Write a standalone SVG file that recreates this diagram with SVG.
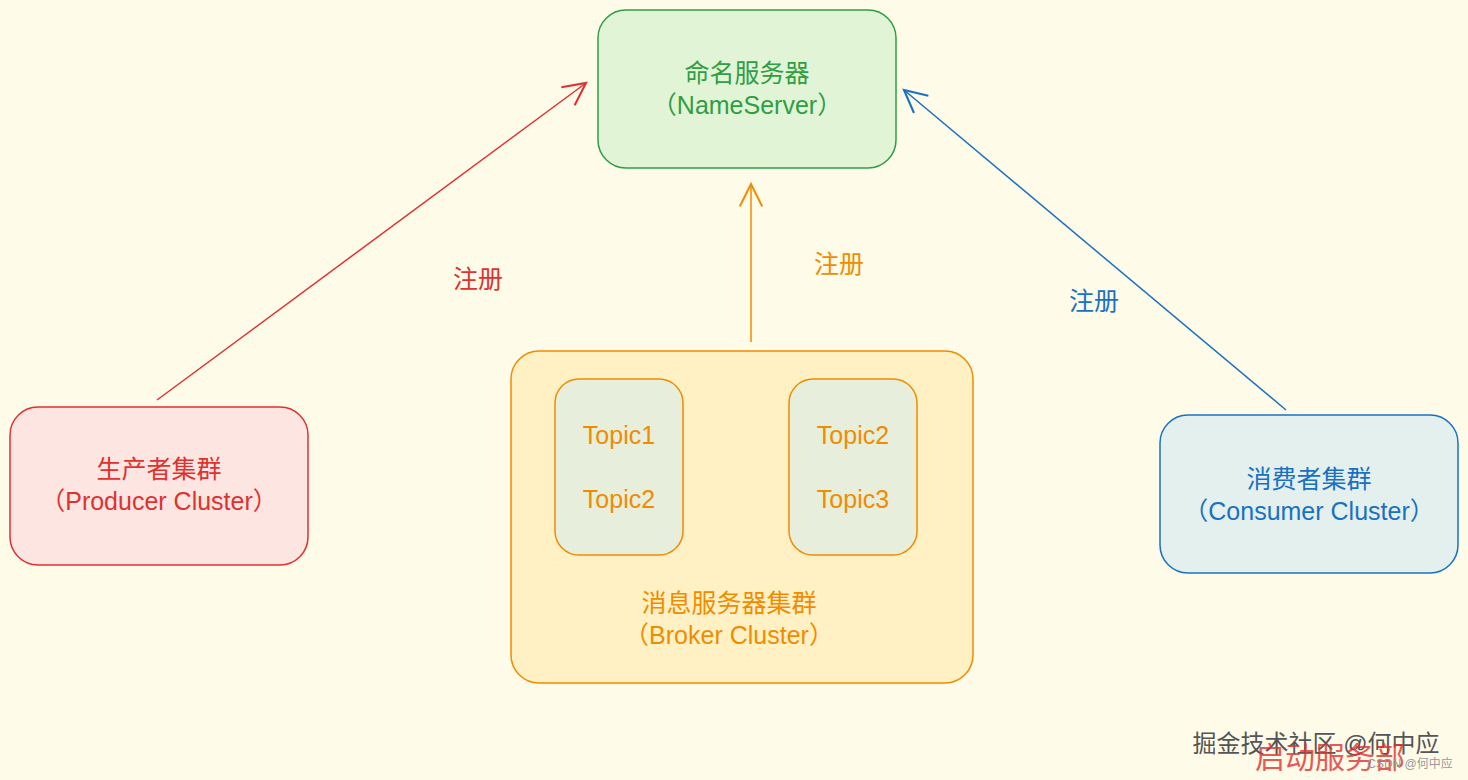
<svg xmlns="http://www.w3.org/2000/svg" width="1468" height="780" viewBox="0 0 1468 780">
<defs>
<style>
text{font-family:"Liberation Sans","Noto Sans CJK SC",sans-serif;text-anchor:middle}
.box{stroke-width:1.5}
.t{font-size:25px}
</style>
<marker id="ar" viewBox="0 0 20 20" refX="18" refY="10" markerWidth="28" markerHeight="28" markerUnits="userSpaceOnUse" orient="auto"><path d="M2,2 L18,10 L2,18" fill="none" stroke="context-stroke" stroke-width="1.5"/></marker>
</defs>
<rect width="1468" height="780" fill="#fffbe9"/>
<g id="nameserver"><rect class="box" x="598" y="10" width="298" height="158" rx="28" fill="#e2f4d6" stroke="#2f9e44"/>
<text class="t" x="747" y="82" fill="#2f9e44">命名服务器</text><text class="t" x="747" y="114" fill="#2f9e44">（NameServer）</text></g>
<g id="producer"><rect class="box" x="10" y="407" width="298" height="158" rx="28" fill="#fde6e1" stroke="#e03131"/>
<text class="t" x="159" y="478" fill="#e03131">生产者集群</text><text class="t" x="159" y="510" fill="#e03131">（Producer Cluster）</text></g>
<g id="consumer"><rect class="box" x="1160" y="415" width="298" height="158" rx="28" fill="#e4f0ee" stroke="#1971c2"/>
<text class="t" x="1309" y="488" fill="#1971c2">消费者集群</text><text class="t" x="1309" y="520" fill="#1971c2">（Consumer Cluster）</text></g>
<g id="broker"><rect class="box" x="511" y="351" width="462" height="332" rx="28" fill="#fff1c4" stroke="#f08c00"/>
<text class="t" x="729" y="612" fill="#f08c00">消息服务器集群</text><text class="t" x="729" y="644" fill="#f08c00">（Broker Cluster）</text></g>
<g id="topics1"><rect class="box" x="555" y="379" width="128" height="176" rx="24" fill="#e7eedb" stroke="#f08c00"/>
<text class="t" x="619" y="444" fill="#f08c00">Topic1</text><text class="t" x="619" y="508" fill="#f08c00">Topic2</text></g>
<g id="topics2"><rect class="box" x="789" y="379" width="128" height="176" rx="24" fill="#e7eedb" stroke="#f08c00"/>
<text class="t" x="853" y="444" fill="#f08c00">Topic2</text><text class="t" x="853" y="508" fill="#f08c00">Topic3</text></g>
<g id="connectors" fill="none" stroke-width="1.5">
<line x1="157" y1="400" x2="586" y2="83" stroke="#e03131" marker-end="url(#ar)"/>
<line x1="751" y1="342" x2="751" y2="184" stroke="#f08c00" marker-end="url(#ar)"/>
<line x1="1286" y1="410" x2="904" y2="90" stroke="#1971c2" marker-end="url(#ar)"/>
</g>
<text class="t" x="478" y="288" fill="#e03131">注册</text>
<text class="t" x="839" y="273" fill="#f08c00">注册</text>
<text class="t" x="1094" y="310" fill="#1971c2">注册</text>
<text x="1316" y="752" font-size="24" fill="#555">掘金技术社区 @何中应</text>
<text x="1330" y="768" font-size="30" fill="#e03131" opacity="0.8">启动服务部</text>
<text x="1410" y="768" font-size="12" fill="#999">CSDN @何中应</text>
</svg>
